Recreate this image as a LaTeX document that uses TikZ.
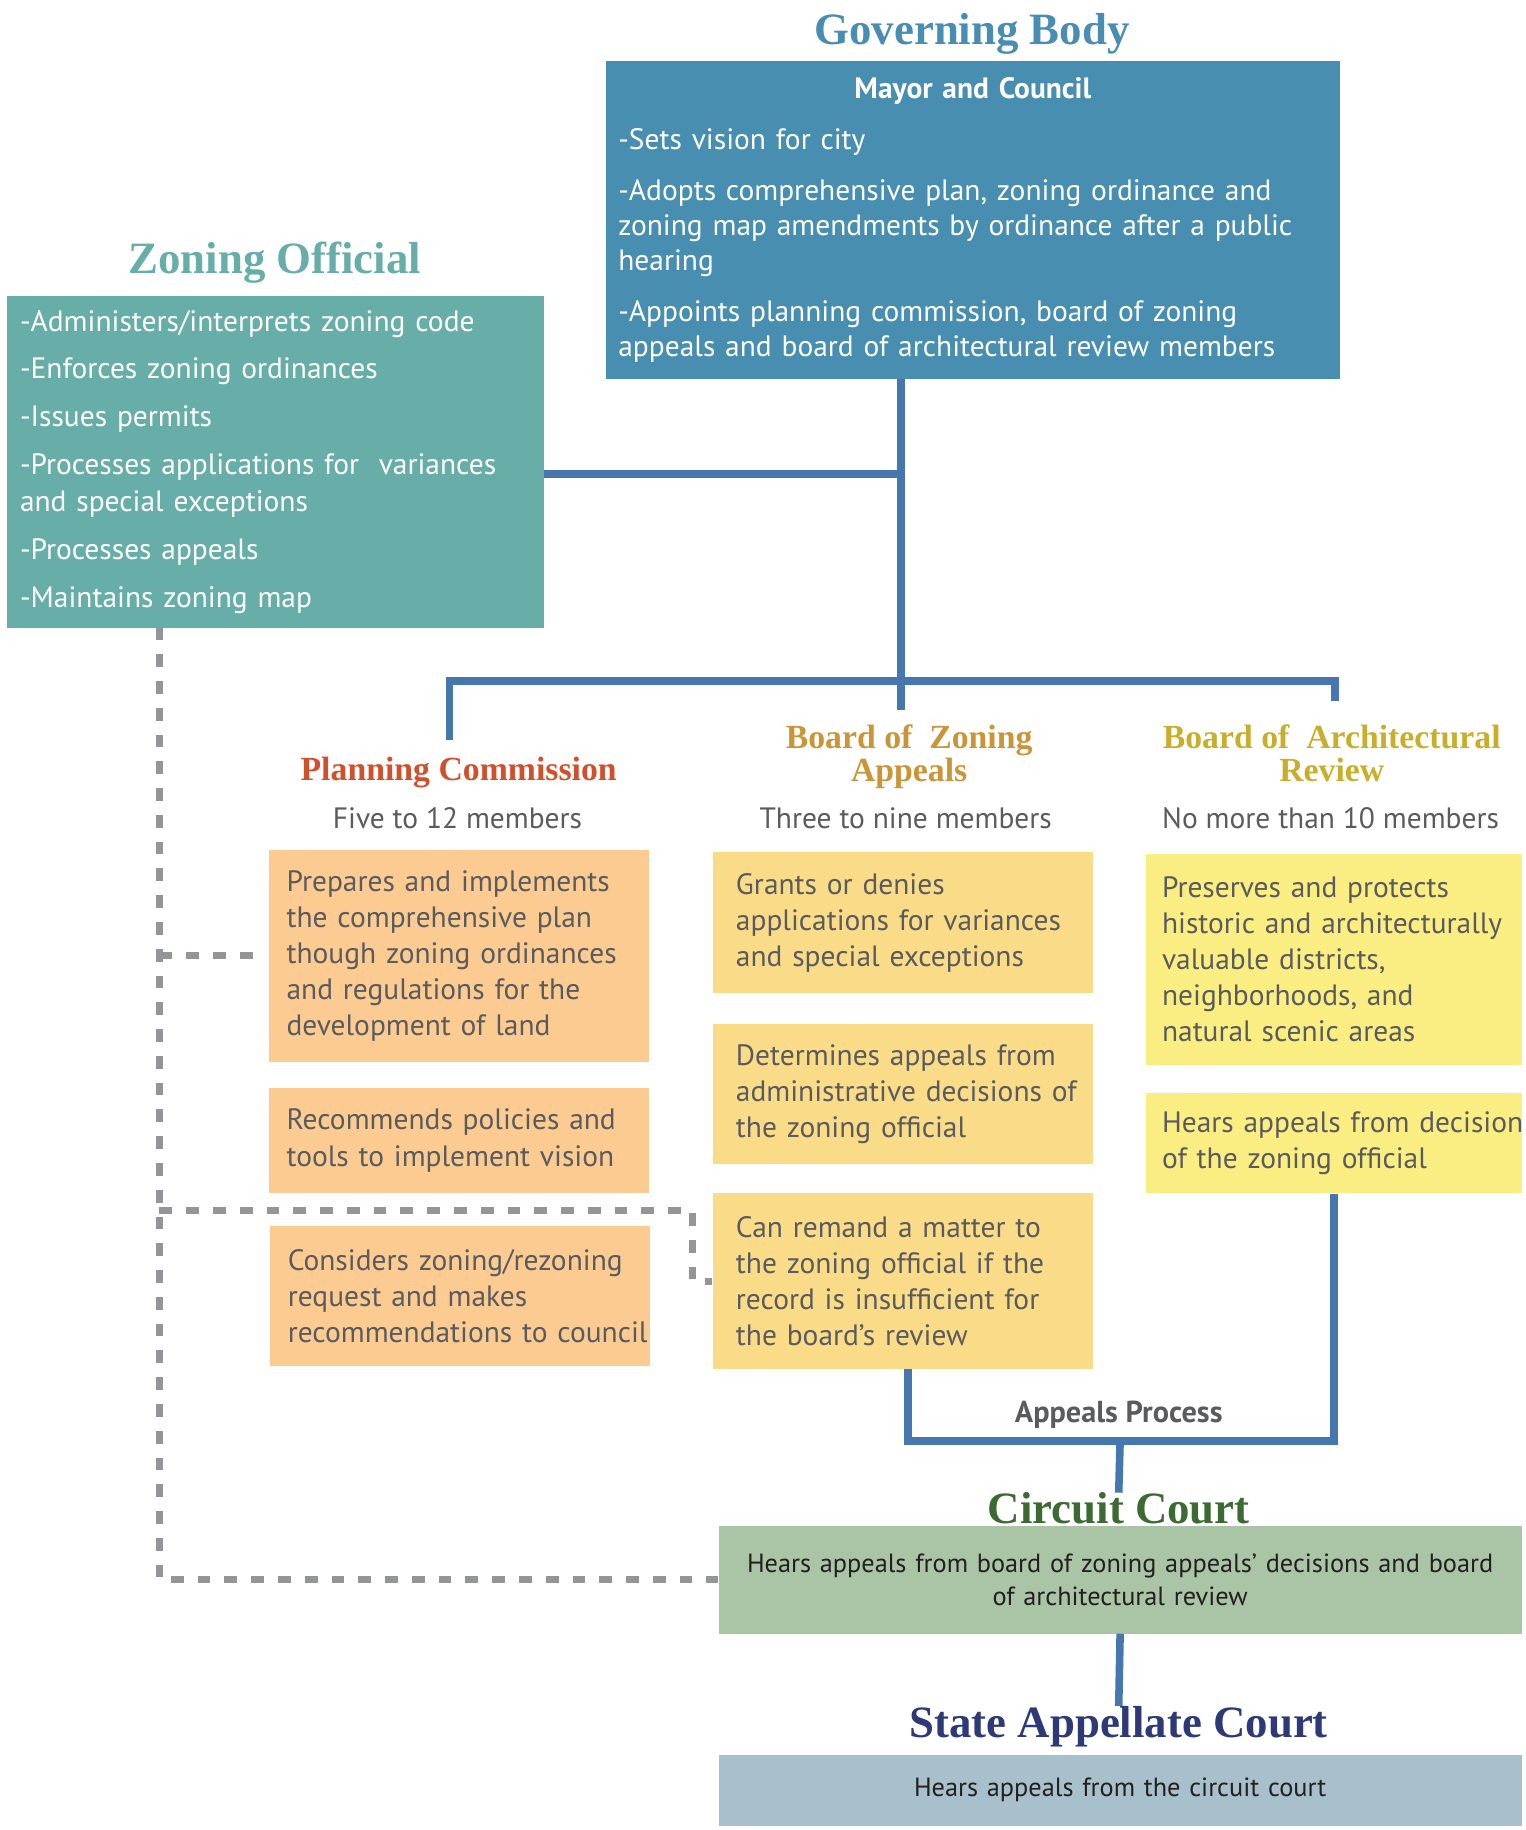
\documentclass[tikz,border=0pt]{standalone}
\usepackage{fontspec}
\setmainfont{PT Sans}
\newfontfamily\headfont{Liberation Serif}
\usepackage{tikz}

\definecolor{govfill}{HTML}{478EB1}
\definecolor{govtitle}{HTML}{4A8DB2}
\definecolor{zonefill}{HTML}{67AEA9}
\definecolor{zonetitle}{HTML}{67AEA9}
\definecolor{linkblue}{HTML}{4677AF}
\definecolor{pcred}{HTML}{D14F2B}
\definecolor{bzagold}{HTML}{C99536}
\definecolor{bargold}{HTML}{C9AE2D}
\definecolor{pcfill}{HTML}{FCCB92}
\definecolor{bzafill}{HTML}{F9DB88}
\definecolor{barfill}{HTML}{FAEE82}
\definecolor{txtgray}{HTML}{5A5B5D}
\definecolor{dashgray}{HTML}{939598}
\definecolor{ccfill}{HTML}{AAC4A6}
\definecolor{ccgreen}{HTML}{3D6A33}
\definecolor{safill}{HTML}{A8C0CB}
\definecolor{sanavy}{HTML}{2E3A77}
\definecolor{courttxt}{HTML}{231F20}

\begin{document}
\begin{tikzpicture}[x=1pt,y=-1pt,
	head/.style={font=\headfont\bfseries\fontsize{38.5}{42}\selectfont, inner sep=0pt},
	subhead/.style={font=\headfont\bfseries\fontsize{29}{29}\selectfont, align=center, inner sep=0pt},
	members/.style={text=txtgray, font=\fontsize{25.3}{28}\selectfont, inner sep=0pt},
	box/.style={anchor=north west, inner ysep=0pt, align=left, font=\fontsize{25.3}{31}\selectfont},
	pcbox/.style={box, fill=pcfill, text=txtgray, inner xsep=15pt, text width=296pt},
	bzabox/.style={box, fill=bzafill, text=txtgray, inner xsep=20pt, text width=287pt},
	barbox/.style={box, fill=barfill, text=txtgray, inner xsep=14pt, text width=295pt},
	courtbox/.style={anchor=north west, align=center, text=courttxt, font=\fontsize{22.6}{28}\selectfont, inner ysep=0pt, inner xsep=10pt, text width=670pt},
	link/.style={draw=linkblue, line width=6.5pt},
	dashline/.style={draw=dashgray, line width=6pt, dash pattern=on 11pt off 12pt}]
	\useasboundingbox (0,0) rectangle (1310,1572);

	\node[head, text=govtitle] (govtitle) at (835,29) {Governing Body};
	\node[box, fill=govfill, text=white, inner xsep=11pt, text width=609pt, minimum height=273pt, font=\fontsize{25.3}{30}\selectfont] (mayor) at (520,52)
		{\makebox[\linewidth]{\textbf{Mayor and Council}}\\[14pt]
		-Sets vision for city\\[14pt]
		-Adopts comprehensive plan, zoning ordinance and\\zoning map amendments by ordinance after a public\\hearing\\[14pt]
		-Appoints planning commission, board of zoning\\appeals and board of architectural review members};

	\node[head, text=zonetitle] (zotitle) at (236,226) {Zoning Official};
	\node[box, fill=zonefill, text=white, inner xsep=11pt, text width=439pt, minimum height=285pt, font=\fontsize{25.3}{32}\selectfont] (zoning) at (6,254)
		{-Administers/interprets zoning code\\[9pt]
		-Enforces zoning ordinances\\[9pt]
		-Issues permits\\[9pt]
		-Processes applications for\ \ variances\\and special exceptions\\[9pt]
		-Processes appeals\\[9pt]
		-Maintains zoning map};

	\node[subhead, text=pcred] (pctitle) at (394,664) {Planning Commission};
	\node[subhead, text=bzagold] (bzatitle) at (781,650) {Board of\ \ Zoning\\Appeals};
	\node[subhead, text=bargold] (bartitle) at (1144,647) {Board of\ \ Architectural\\Review};
	\node[members] (pcmem) at (393,703) {Five to 12 members};
	\node[members] (bzamem) at (778,703) {Three to nine members};
	\node[members] (barmem) at (1143,703) {No more than 10 members};

	\node[pcbox, minimum height=182pt] (pc1) at (231,730) {Prepares and implements\\the comprehensive plan\\\mbox{though zoning ordinances}\\and regulations for the\\development of land};
	\node[pcbox, minimum height=91pt] (pc2) at (231,934) {\mbox{Recommends policies and}\\tools to implement vision};
	\node[pcbox, minimum height=120pt] (pc3) at (232,1053) {\mbox{Considers zoning/rezoning}\\request and makes\\\mbox{recommendations to council}};

	\node[bzabox, minimum height=121pt] (bza1) at (612,732) {Grants or denies\\\mbox{applications for variances}\\and special exceptions};
	\node[bzabox, minimum height=121pt] (bza2) at (612,879) {Determines appeals from\\\mbox{administrative decisions of}\\the zoning official};
	\node[bzabox, minimum height=151pt] (bza3) at (612,1025) {Can remand a matter to\\the zoning official if the\\record is insufficient for\\the board’s review};

	\node[barbox, minimum height=182pt] (bar1) at (984,733) {Preserves and protects\\\mbox{historic and architecturally}\\valuable districts,\\neighborhoods, and\\natural scenic areas};
	\node[barbox, minimum height=86pt] (bar2) at (984,939) {\mbox{Hears appeals from decision}\\of the zoning official};

	\node[font=\bfseries\fontsize{26}{28}\selectfont, text=txtgray] (aplabel) at (961,1215) {Appeals Process};
	\node[head, text=ccgreen] (cctitle) at (961,1296) {Circuit Court};
	\node[courtbox, fill=ccfill, minimum height=92pt] (circuit) at (617,1311) {Hears appeals from board of zoning appeals’ decisions and board\\of architectural review};
	\node[head, text=sanavy] (satitle) at (961,1483) {State Appellate Court};
	\node[courtbox, fill=safill, minimum height=61pt] (state) at (617,1507) {Hears appeals from the circuit court};

	\coordinate (hub) at (774,407);
	\coordinate (split) at (774,585);
	\coordinate (bzatop) at (774,610);
	\coordinate (pctop) at (386,636);
	\coordinate (bartop) at (1147,602);
	\coordinate (apbase) at (780,1238);
	\draw[link] (hub |- mayor.south) -- (split) -- (bzatop);
	\draw[link] (zoning.east |- hub) -- (hub);
	\draw[link] (pctop) |- (split) -| (bartop);
	\draw[link] (bza3.south -| apbase) -- (apbase) -| (bar2.south);
	\draw[link] (circuit.north |- apbase) -- (cctitle.north);
	\draw[link] (circuit.south) -- (satitle.north);

	\coordinate (dtop) at (137,539);
	\coordinate (dturn) at (595,1040);
	\draw[dashline] (dtop) |- (circuit.west);
	\draw[dashline] (dtop |- pc1.west) -- ([xshift=-9pt]pc1.west);
	\draw[dashline] (dtop |- dturn) -- (dturn) |- (bza3.west);
\end{tikzpicture}
\end{document}
